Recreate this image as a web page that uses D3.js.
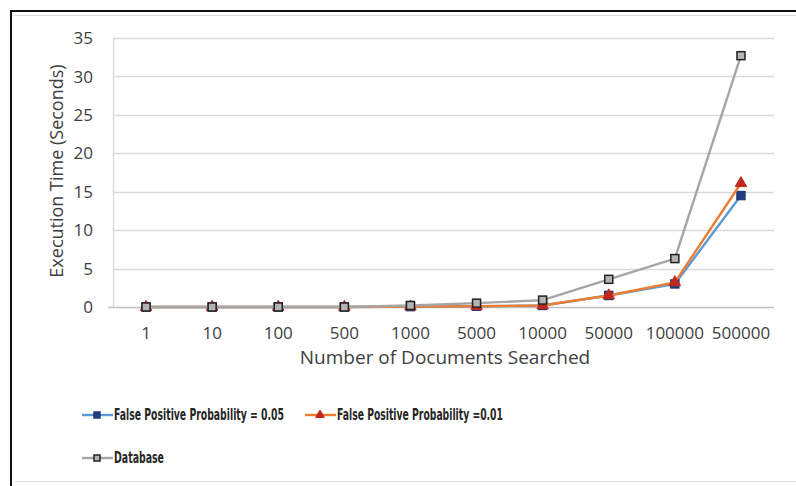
<!DOCTYPE html>
<html>
<head>
<meta charset="utf-8">
<script src="https://cdn.jsdelivr.net/npm/d3@7"></script>
<style>
  body { margin: 0; background: #fff; }
  text { font-family: "Open Sans", sans-serif; }
</style>
</head>
<body>
<div class="chart"></div>
<script>
// data
var categories = ["1", "10", "100", "500", "1000", "5000", "10000", "50000", "100000", "500000"];
var fpp005 = [0, 0, 0, 0, 0.05, 0.1, 0.2, 1.5, 3.0, 14.5];
var fpp001 = [0, 0, 0, 0, 0.05, 0.1, 0.2, 1.5, 3.2, 16.1];
var database = [0, 0, 0, 0, 0.2, 0.5, 0.9, 3.6, 6.3, 32.7];
var yTicks = [0, 5, 10, 15, 20, 25, 30, 35];

var series = [
  { name: "False Positive Probability = 0.05", values: fpp005, line: "#5b9bd5", mark: "square", fill: "#1f3d7a", stroke: "#1f3d7a", legendW: 170 },
  { name: "False Positive Probability =0.01", values: fpp001, line: "#ed7d31", mark: "triangle", fill: "#c0281c", stroke: "#c0281c", legendW: 166 },
  { name: "Database", values: database, line: "#a5a5a5", mark: "square", fill: "#b4b4b4", stroke: "#222", legendW: 50 }
];

var W = 796, H = 486;
var svg = d3.select(".chart").append("svg")
  .attr("width", W)
  .attr("height", H);

// frame
svg.append("line").attr("x1", 10).attr("x2", W).attr("y1", 11).attr("y2", 11)
  .style("stroke", "#111").style("stroke-width", 2);
svg.append("line").attr("x1", 11).attr("x2", 11).attr("y1", 10).attr("y2", H)
  .style("stroke", "#111").style("stroke-width", 2);
svg.append("line").attr("x1", 14).attr("x2", W).attr("y1", 15.5).attr("y2", 15.5)
  .style("stroke", "#ddd").style("stroke-width", 1);
svg.append("line").attr("x1", 14).attr("x2", W).attr("y1", 481.5).attr("y2", 481.5)
  .style("stroke", "#e4e4e4").style("stroke-width", 1);

var margin = { top: 38, left: 113, right: 22, bottom: 179 };

var x = d3.scaleBand()
  .domain(categories)
  .range([margin.left, W - margin.right]);

var y = d3.scaleLinear()
  .domain([0, 35])
  .range([H - margin.bottom, margin.top]);

// gridlines
svg.append("g")
  .attr("class", "grid")
  .selectAll("line")
  .data(yTicks.filter(d => d > 0))
  .enter()
  .append("line")
  .attr("x1", margin.left)
  .attr("x2", W - margin.right)
  .attr("y1", d => Math.round(y(d)) + 0.5)
  .attr("y2", d => Math.round(y(d)) + 0.5)
  .style("stroke", "#d9d9d9")
  .style("stroke-width", 1.3);

// y axis line
svg.append("line")
  .attr("x1", margin.left + 0.5).attr("x2", margin.left + 0.5)
  .attr("y1", y(35)).attr("y2", y(0))
  .style("stroke", "#d9d9d9").style("stroke-width", 1.3);

// x axis line
svg.append("line")
  .attr("x1", margin.left - 5).attr("x2", W - margin.right)
  .attr("y1", Math.round(y(0)) + 0.5).attr("y2", Math.round(y(0)) + 0.5)
  .style("stroke", "#bfbfbf").style("stroke-width", 1.3);

// y tick labels
svg.append("g")
  .selectAll("text")
  .data(yTicks)
  .enter()
  .append("text")
  .attr("x", margin.left - 20)
  .attr("y", d => y(d))
  .attr("dy", "0.36em")
  .style("text-anchor", "end")
  .style("font-size", "17px")
  .style("fill", "#404040")
  .text(d => d);

// x tick labels
svg.append("g")
  .selectAll("text")
  .data(categories)
  .enter()
  .append("text")
  .attr("x", d => x(d) + x.bandwidth() / 2)
  .attr("y", 339)
  .style("text-anchor", "middle")
  .style("font-size", "17px")
  .style("fill", "#404040")
  .text(d => d);

// axis titles
svg.append("text")
  .attr("transform", `translate(63, 171) rotate(-90)`)
  .style("text-anchor", "middle")
  .style("font-size", "18px")
  .style("fill", "#404040")
  .text("Execution Time (Seconds)");

svg.append("text")
  .attr("x", 445)
  .attr("y", 364)
  .style("text-anchor", "middle")
  .style("font-size", "19px")
  .style("fill", "#404040")
  .text("Number of Documents Searched");

var line = d3.line()
  .x((d, i) => x(categories[i]) + x.bandwidth() / 2)
  .y(d => y(d));

function drawMarker(g, s, cx, cy, size) {
  if (s.mark === "square") {
    g.append("rect")
      .attr("x", cx - size / 2).attr("y", cy - size / 2)
      .attr("width", size).attr("height", size)
      .style("fill", s.fill).style("stroke", s.stroke).style("stroke-width", 1.5);
  } else {
    g.append("path")
      .attr("d", d3.symbol().type(d3.symbolTriangle).size(size * size * 0.9)())
      .attr("transform", `translate(${cx},${cy})`)
      .style("fill", s.fill).style("stroke", s.stroke).style("stroke-width", 1);
  }
}

series.forEach(function (s) {
  var g = svg.append("g").attr("class", "series");
  g.append("path")
    .datum(s.values)
    .attr("d", line)
    .style("fill", "none")
    .style("stroke", s.line)
    .style("stroke-width", 2.4)
    .style("stroke-linejoin", "round");
  s.values.forEach(function (v, i) {
    drawMarker(g, s, x(categories[i]) + x.bandwidth() / 2, y(v), 8);
  });
});

// legend
var legendItems = [
  { s: series[0], lx: 82, ly: 415 },
  { s: series[1], lx: 305, ly: 415 },
  { s: series[2], lx: 82, ly: 458 }
];
legendItems.forEach(function (d) {
  var g = svg.append("g").attr("class", "legend");
  g.append("line")
    .attr("x1", d.lx).attr("x2", d.lx + 31)
    .attr("y1", d.ly).attr("y2", d.ly)
    .style("stroke", d.s.line).style("stroke-width", 2.4);
  drawMarker(g, d.s, d.lx + 15, d.ly, 6);
  g.append("text")
    .attr("x", d.lx + 32)
    .attr("y", d.ly)
    .attr("dy", "0.36em")
    .attr("textLength", d.s.legendW)
    .attr("lengthAdjust", "spacingAndGlyphs")
    .style("font-family", "'DejaVu Sans Condensed', 'DejaVu Sans', sans-serif")
    .style("font-stretch", "condensed")
    .style("font-weight", "bold")
    .style("font-size", "15px")
    .style("fill", "#262626")
    .text(d.s.name);
});
</script>
</body>
</html>
